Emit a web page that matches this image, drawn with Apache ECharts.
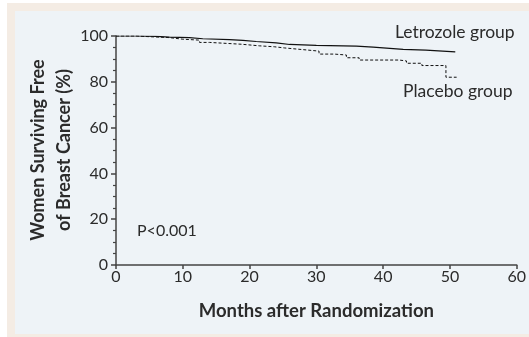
<!DOCTYPE html>
<html>
<head>
<meta charset="utf-8">
<script src="https://cdn.jsdelivr.net/npm/echarts@6/dist/echarts.min.js"></script>
<style>html,body{margin:0;padding:0;background:#fff}#c{width:529px;height:337px}</style>
</head>
<body>
<div id="c"></div>
<script>
var xTicks = [0, 10, 20, 30, 40, 50, 60];
var yTicks = [0, 20, 40, 60, 80, 100];
var letrozoleMonths = [0, 3, 6, 8, 11, 13, 17, 19, 21, 24, 26, 30, 34, 36, 38.5, 41, 43, 46.4, 50.8];
var letrozoleSurv   = [100, 99.8, 99.5, 99.3, 98.8, 98.4, 98.1, 97.6, 97.0, 96.3, 95.9, 95.7, 95.6, 95.1, 94.6, 94.2, 93.8, 93.1, 93.1];
var placeboMonths = [0, 3, 5, 8, 10, 12.5, 14, 18.8, 21.5, 23.7, 25.2, 27.8, 30.4, 32.7, 34.5, 36.4, 42.4, 43.5, 45.8, 49.4, 51];
var placeboSurv   = [100, 99.7, 99.3, 98.6, 98.2, 97.2, 96.4, 95.7, 95.3, 94.8, 94.1, 93.4, 92.1, 91.7, 90.5, 89.5, 89.1, 88.1, 87.1, 82.0, 82.0];

function pairs(xs, ys) { return xs.map(function (x, i) { return [x, ys[i]]; }); }

var FONT = 'Lato';
var TXT = '#2b2b2b';
var chart = echarts.init(document.getElementById('c'), null, {renderer: 'canvas'});
chart.setOption({
  animation: false,
  backgroundColor: '#ffffff',
  graphic: [
    {type: 'rect', z: -10, silent: true, shape: {x: 7, y: 3, width: 522, height: 334}, style: {fill: '#f4ece4'}},
    {type: 'rect', z: -9, silent: true, shape: {x: 15, y: 11, width: 514, height: 323}, style: {fill: '#eef3f7'}},
    {type: 'text', left: 395, top: 23, style: {text: 'Letrozole group', font: '17.5px ' + FONT, fill: TXT}},
    {type: 'text', left: 403, top: 82, style: {text: 'Placebo group', font: '17.5px ' + FONT, fill: TXT}},
    {type: 'text', left: 137, top: 223, style: {text: 'P<0.001', font: '16px ' + FONT, fill: TXT}},
    {type: 'text', x: 51, y: 150, rotation: Math.PI / 2, style: {text: 'Women Surviving Free\nof Breast Cancer (%)', font: 'bold 18px ' + FONT, fill: TXT, align: 'center', verticalAlign: 'middle', lineHeight: 26}, silent: true}
  ],
  grid: {left: 116, right: 11.5, top: 36, bottom: 72, containLabel: false},
  xAxis: {
    type: 'value', min: 0, max: 60, interval: 10,
    axisLine: {show: true, lineStyle: {color: '#444', width: 1.5}},
    axisTick: {show: true, length: 4, lineStyle: {color: '#444', width: 1.5}},
    axisLabel: {color: TXT, fontSize: 16, fontFamily: FONT, margin: 4},
    splitLine: {show: false},
    name: 'Months after Randomization', nameLocation: 'middle', nameGap: 37,
    nameTextStyle: {color: TXT, fontSize: 18.5, fontWeight: 'bold', fontFamily: FONT}
  },
  yAxis: {
    type: 'value', min: 0, max: 100, interval: 20,
    axisLine: {show: true, lineStyle: {color: '#444', width: 1.5}},
    axisTick: {show: true, length: 5, lineStyle: {color: '#444', width: 1.5}},
    minorTick: {show: true, splitNumber: 4, length: 3, lineStyle: {color: '#444', width: 1.2}},
    axisLabel: {color: TXT, fontSize: 16, fontFamily: FONT, margin: 8},
    splitLine: {show: false}
  },
  series: [
    {type: 'line', name: 'Letrozole group', step: 'end', symbol: 'none', data: pairs(letrozoleMonths, letrozoleSurv),
     lineStyle: {color: '#111', width: 1.2}},
    {type: 'line', name: 'Placebo group', step: 'end', symbol: 'none', data: pairs(placeboMonths, placeboSurv),
     lineStyle: {color: '#111', width: 1, type: [3, 2]}}
  ]
});
</script>
</body>
</html>
